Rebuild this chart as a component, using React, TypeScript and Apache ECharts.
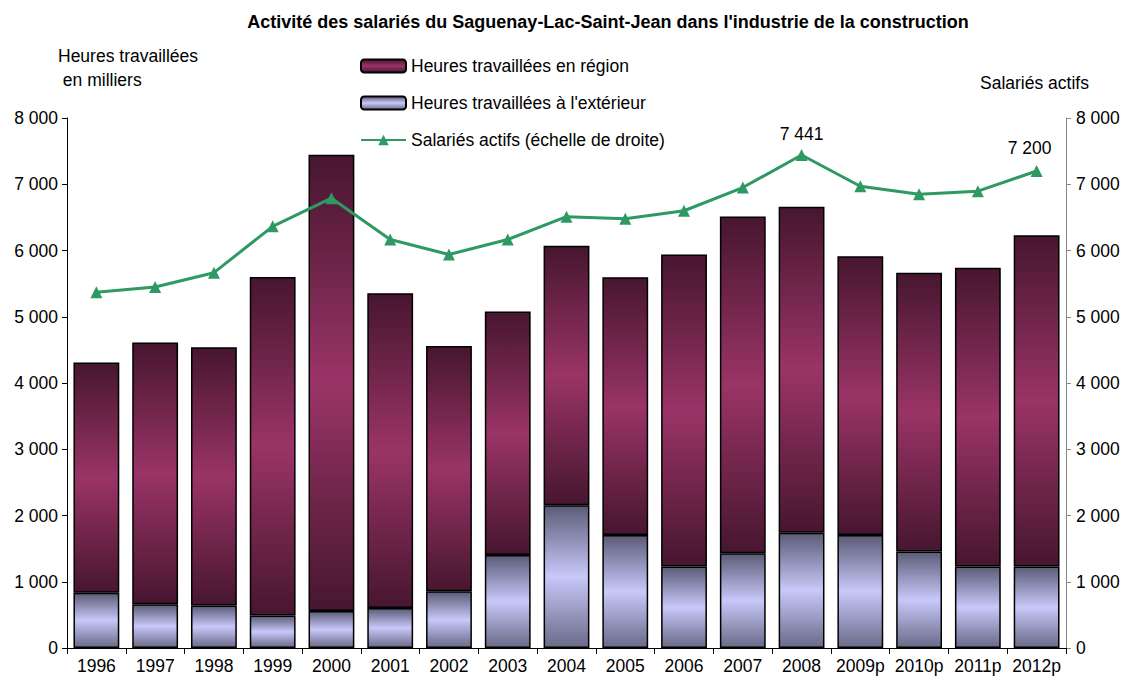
import React, { useEffect, useRef } from "react";
import * as echarts from "echarts";

const categories = ["1996", "1997", "1998", "1999", "2000", "2001", "2002", "2003", "2004", "2005", "2006", "2007", "2008", "2009p", "2010p", "2011p", "2012p"];
const heuresRegion = [3475, 3950, 3900, 5110, 6885, 4750, 3705, 3675, 3915, 3890, 4710, 5085, 4920, 4210, 4210, 4510, 5000];
const heuresExterieur = [835, 660, 640, 490, 560, 605, 855, 1405, 2155, 1705, 1230, 1430, 1740, 1705, 1455, 1230, 1230];
const salariesActifs = [5370, 5450, 5665, 6365, 6790, 6165, 5940, 6165, 6510, 6480, 6600, 6950, 7441, 6970, 6850, 6895, 7200];
const labelledYears = ["2008", "2012p"];
const axisTicks = { min: 0, max: 8000, interval: 1000 };

const FONT = "Liberation Sans, Arial, sans-serif";
const FS = 17.5;
const fmt = (v: number) => String(v).replace(/\B(?=(\d{3})+(?!\d))/g, " ");

const grad = (edge: string, mid: string, edgeBottom?: string) =>
  new echarts.graphic.LinearGradient(0, 0, 0, 1, [
    { offset: 0, color: edge },
    { offset: 0.5, color: mid },
    { offset: 1, color: edgeBottom || edge },
  ]);

export default function App() {
  const ref = useRef<HTMLDivElement>(null);
  useEffect(() => {
    if (!ref.current) return;
    const chart = echarts.init(ref.current, null, { renderer: "svg" });
    chart.setOption({
      animation: false,
      backgroundColor: "#ffffff",
      textStyle: { fontFamily: FONT },
      title: {
        text: "Activité des salariés du Saguenay-Lac-Saint-Jean dans l'industrie de la construction",
        left: 603,
        textAlign: "center",
        top: 8,
        textStyle: { fontFamily: FONT, fontSize: 18, fontWeight: "bold", color: "#000" },
      },
      legend: {
        orient: "vertical",
        left: 355,
        top: 52,
        itemWidth: 45,
        itemHeight: 13,
        itemGap: 19,
        textStyle: { fontFamily: FONT, fontSize: FS, color: "#000" },
        data: ["Heures travaillées en région", "Heures travaillées à l'extérieur", "Salariés actifs (échelle de droite)"],
      },
      graphic: [
        { type: "text", left: 58, top: 47, style: { text: "Heures travaillées", font: `${FS}px ${FONT}`, fill: "#000" } },
        { type: "text", left: 58, top: 71, style: { text: " en milliers", font: `${FS}px ${FONT}`, fill: "#000" } },
        { type: "text", left: 980, top: 74, style: { text: "Salariés actifs", font: `${FS}px ${FONT}`, fill: "#000" } },
      ],
      grid: { left: 67, right: 67, top: 118, bottom: 33 },
      xAxis: {
        type: "category",
        data: categories,
        axisLine: { lineStyle: { color: "#000", width: 1 } },
        axisTick: { show: true, length: 6, lineStyle: { color: "#000" } },
        axisLabel: { fontFamily: FONT, fontSize: FS, color: "#000", margin: 9, interval: 0 },
      },
      yAxis: [
        {
          type: "value",
          ...axisTicks,
          position: "left",
          splitLine: { show: false },
          axisLine: { show: true, lineStyle: { color: "#000" } },
          axisTick: { show: true, length: 5, lineStyle: { color: "#000" } },
          axisLabel: { fontFamily: FONT, fontSize: FS, color: "#000", margin: 9, formatter: fmt },
        },
        {
          type: "value",
          ...axisTicks,
          position: "right",
          splitLine: { show: false },
          axisLine: { show: true, lineStyle: { color: "#888" } },
          axisTick: { show: true, length: 5, lineStyle: { color: "#888" } },
          axisLabel: { fontFamily: FONT, fontSize: FS, color: "#000", margin: 10, formatter: fmt },
        },
      ],
      series: [
        {
          name: "Heures travaillées à l'extérieur",
          type: "bar",
          stack: "h",
          barWidth: "78%",
          data: heuresExterieur,
          itemStyle: { color: grad("#5c5c78", "#c8c8fa", "#6a6a88"), borderColor: "#000", borderWidth: 1.5 },
        },
        {
          name: "Heures travaillées en région",
          type: "bar",
          stack: "h",
          barWidth: "78%",
          data: heuresRegion,
          itemStyle: { color: grad("#471630", "#9a3466"), borderColor: "#000", borderWidth: 1.5 },
        },
        {
          name: "Salariés actifs (échelle de droite)",
          type: "line",
          yAxisIndex: 1,
          data: salariesActifs.map((v, i) => ({
            value: v,
            label: {
              show: labelledYears.includes(categories[i]),
              position: "top",
              distance: 6,
              offset: categories[i] === "2012p" ? [-7, -2] : [0, 0],
              formatter: () => fmt(v),
              fontFamily: FONT,
              fontSize: FS,
              color: "#000",
            },
          })),
          symbol: "triangle",
          symbolSize: 12,
          lineStyle: { color: "#2e9963", width: 3 },
          itemStyle: { color: "#2e9963" },
          z: 5,
        },
      ],
    });
    return () => chart.dispose();
  }, []);
  return <div ref={ref} style={{ position: "fixed", left: 0, top: 0, width: 1133, height: 681 }} />;
}
